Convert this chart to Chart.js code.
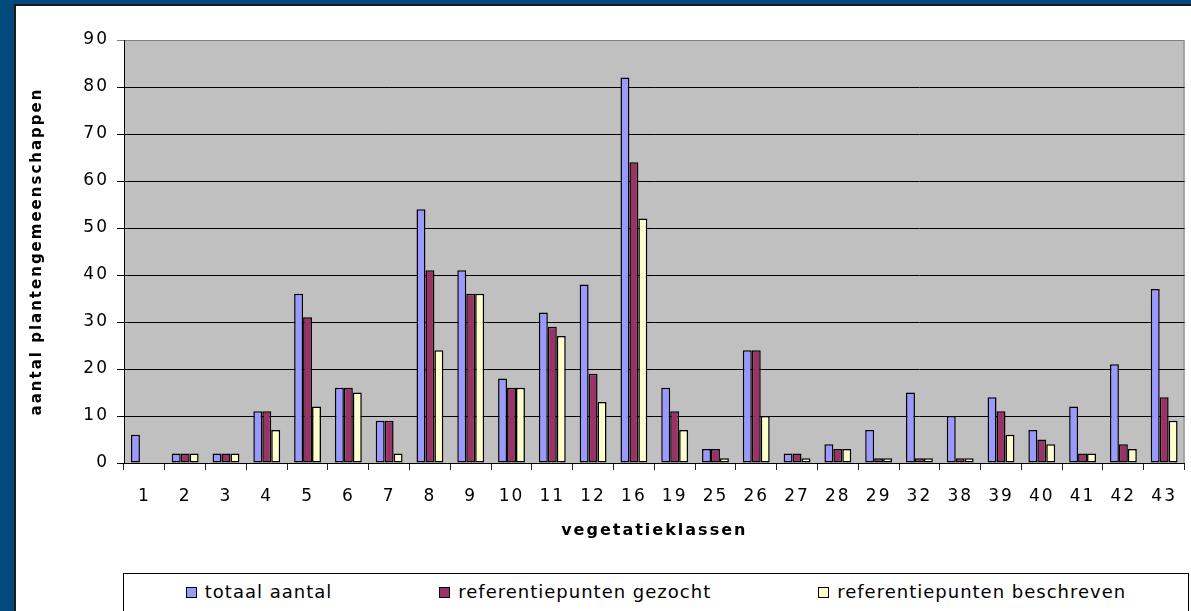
<!DOCTYPE html>
<html>
<head>
<meta charset="utf-8">
<script src="https://cdn.jsdelivr.net/npm/chart.js@4.4.1/dist/chart.umd.min.js"></script>
<style>
  html, body { margin: 0; padding: 0; }
  body { width: 1191px; height: 611px; overflow: hidden; background: #004b7b; position: relative; font-family: "DejaVu Sans", sans-serif; }
  #panel { position: absolute; left: 14px; top: 4px; right: 0; bottom: 0; background: #fff; border-left: 2px solid #1b1b1b; border-top: 2px solid #1b1b1b; }
  #wrap { position: absolute; left: 16px; top: 6px; width: 1175px; height: 560px; }
  #legend { position: absolute; left: 123px; top: 573px; width: 1066px; height: 60px; box-sizing: border-box; border: 1px solid #000; background: #fff;
            display: flex; justify-content: center; align-items: flex-start; gap: 107px; padding-top: 6px; }
  .item { display: flex; align-items: center; font-size: 18px; line-height: 24px; letter-spacing: 1px; color: #000; white-space: nowrap; }
  .swatch { width: 9px; height: 9px; border: 1.5px solid #000; margin-right: 8px; }
</style>
</head>
<body>
<div id="panel"></div>
<div id="wrap"><canvas id="c_veg"></canvas></div>
<div id="legend"></div>
<script>
// vegetatieklassen vs aantal plantengemeenschappen
const categories = ['1', '2', '3', '4', '5', '6', '7', '8', '9', '10', '11', '12', '16', '19', '25', '26', '27', '28', '29', '32', '38', '39', '40', '41', '42', '43'];
const totaalAantal = [6, 2, 2, 11, 36, 16, 9, 54, 41, 18, 32, 38, 82, 16, 3, 24, 2, 4, 7, 15, 10, 14, 7, 12, 21, 37];
const refGezocht = [0, 2, 2, 11, 31, 16, 9, 41, 36, 16, 29, 19, 64, 11, 3, 24, 2, 3, 1, 1, 1, 11, 5, 2, 4, 14];
const refBeschreven = [0, 2, 2, 7, 12, 15, 2, 24, 36, 16, 27, 13, 52, 7, 1, 10, 1, 3, 1, 1, 1, 6, 4, 2, 3, 9];
const seriesNames = ['totaal aantal', 'referentiepunten gezocht', 'referentiepunten beschreven'];
const seriesColors = ['#9999ff', '#993366', '#ffffcc'];
const yMax = 90;
const yStep = 10;

const FONT = '"DejaVu Sans", sans-serif';

const plotBackground = {
  id: 'plotBackground',
  beforeDraw(chart) {
    const { ctx, chartArea: a } = chart;
    ctx.letterSpacing = '2px';
    ctx.save();
    ctx.fillStyle = '#c0c0c0';
    ctx.fillRect(a.left, a.top, a.right - a.left, a.bottom - a.top);
    ctx.strokeStyle = '#808080';
    ctx.lineWidth = 1;
    ctx.beginPath();
    ctx.moveTo(a.left, a.top + 0.5);
    ctx.lineTo(a.right - 0.5, a.top + 0.5);
    ctx.lineTo(a.right - 0.5, a.bottom);
    ctx.stroke();
    ctx.restore();
  },
};

const allValues = [totaalAantal, refGezocht, refBeschreven];

new Chart(document.getElementById('c_veg'), {
  type: 'bar',
  data: {
    labels: categories,
    datasets: allValues.map((vals, i) => ({
      label: seriesNames[i],
      data: vals,
      backgroundColor: seriesColors[i],
      borderColor: '#000',
      borderWidth: 1.5,
      borderSkipped: false,
      barPercentage: 1,
      categoryPercentage: 27 / 41,
    })),
  },
  options: {
    responsive: true,
    maintainAspectRatio: false,
    animation: false,
    // 26 categories x 41px -> bars land on whole pixels
    layout: { autoPadding: false, padding: { left: 0, right: 1, top: 34, bottom: 0 } },
    plugins: { legend: { display: false }, tooltip: { enabled: false } },
    scales: {
      x: {
        grid: { display: true, drawOnChartArea: false, drawTicks: true, tickLength: 7, color: '#222', offset: true },
        border: { color: '#000', width: 1 },
        ticks: { color: '#000', font: { family: FONT, size: 17 }, padding: 16, autoSkip: false, maxRotation: 0 },
        title: {
          display: true,
          text: 'vegetatieklassen',
          color: '#000',
          font: { family: FONT, size: 16, weight: 'bold' },
          padding: { top: 0, bottom: 26 },
        },
        afterFit(s) { s.height = 103; },
      },
      y: {
        min: 0,
        max: yMax,
        ticks: { stepSize: yStep, color: '#000', font: { family: FONT, size: 17 }, padding: 8 },
        grid: {
          color: c => (c.tick && c.tick.value === yMax ? '#808080' : '#000'),
          tickLength: 7,
        },
        border: { color: '#000', width: 1 },
        title: {
          display: true,
          text: 'aantal plantengemeenschappen',
          color: '#000',
          font: { family: FONT, size: 15, weight: 'bold' },
          padding: { top: 12, bottom: 0 },
        },
        afterFit(s) { s.width = 108; },
      },
    },
  },
  plugins: [plotBackground],
});

document.getElementById('legend').innerHTML = seriesNames
  .map((n, i) => `<div class="item"><div class="swatch" style="background:${seriesColors[i]}"></div>${n}</div>`)
  .join('');
</script>
</body>
</html>
